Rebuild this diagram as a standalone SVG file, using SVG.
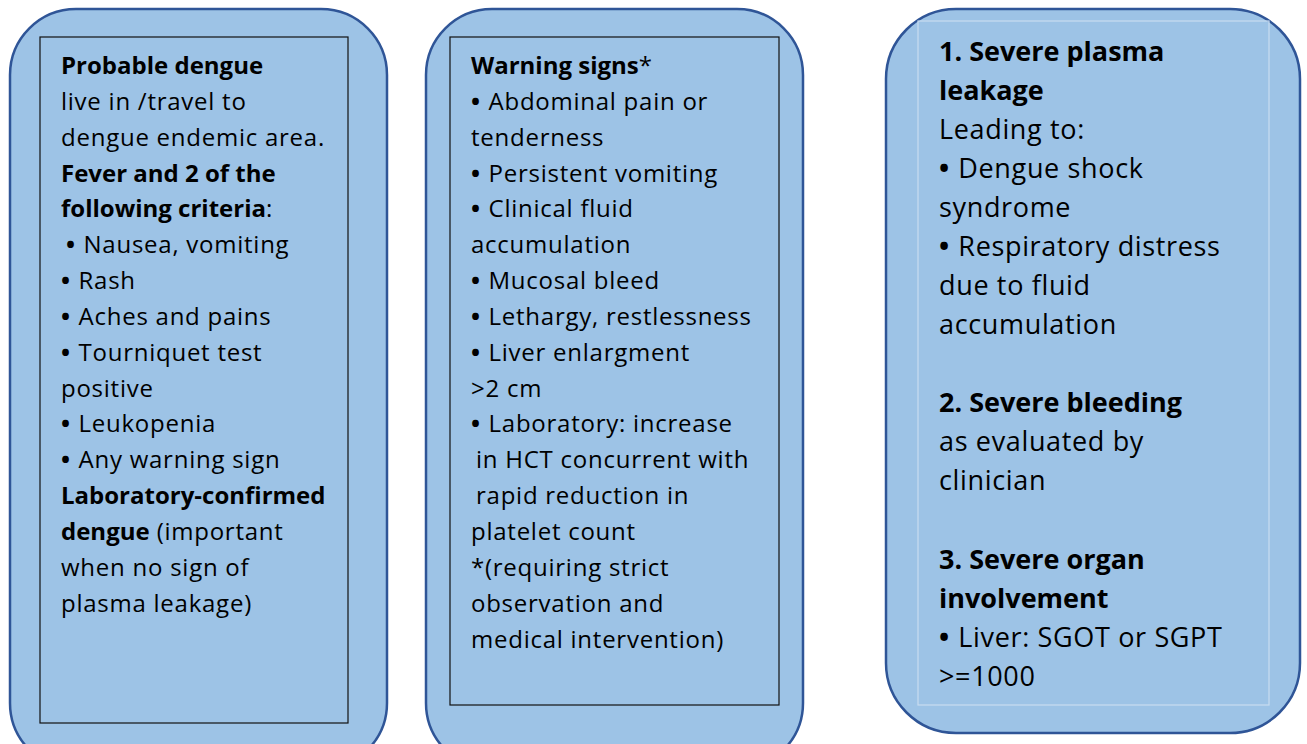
<svg xmlns="http://www.w3.org/2000/svg" width="1307" height="744" viewBox="0 0 1307 744">
  <style>
    .card { fill: #9DC3E6; stroke: #2F5597; stroke-width: 2.5; }
    .frame { fill: none; stroke: #111; stroke-width: 1.2; }
    .frame-light { fill: none; stroke: #C9DDF0; stroke-width: 1.2; }
    text { font-family: "Open Sans", Lato, "Liberation Sans", sans-serif; fill: #000; }
    .t1 { font-size: 24px; letter-spacing: 0.75px; }
    .t3 { font-size: 27px; letter-spacing: 0.65px; }
    .b { font-weight: bold; letter-spacing: 0; }
    .bl { font-weight: bold; letter-spacing: 1.5px; }
  </style>
  <rect width="1307" height="744" fill="#FFFFFF"/>

  <g id="probable-dengue">
    <rect class="card" x="10" y="9" width="377" height="760" rx="66" ry="66"/>
    <rect class="frame" x="40" y="37" width="308" height="686"/>
    <text class="t1">
      <tspan x="61" y="74" class="b">Probable dengue</tspan>
      <tspan x="61" y="110">live in /travel to</tspan>
      <tspan x="61" y="146">dengue endemic area.</tspan>
      <tspan x="61" y="182" class="b">Fever and 2 of the</tspan>
      <tspan x="61" y="217"><tspan class="b">following criteria</tspan>:</tspan>
      <tspan x="66" y="253"><tspan class="bl">•</tspan> Nausea, vomiting</tspan>
      <tspan x="61" y="289"><tspan class="bl">•</tspan> Rash</tspan>
      <tspan x="61" y="325"><tspan class="bl">•</tspan> Aches and pains</tspan>
      <tspan x="61" y="361"><tspan class="bl">•</tspan> Tourniquet test</tspan>
      <tspan x="61" y="397">positive</tspan>
      <tspan x="61" y="432"><tspan class="bl">•</tspan> Leukopenia</tspan>
      <tspan x="61" y="468"><tspan class="bl">•</tspan> Any warning sign</tspan>
      <tspan x="61" y="504" class="b">Laboratory-confirmed</tspan>
      <tspan x="61" y="540"><tspan class="b">dengue</tspan> (important</tspan>
      <tspan x="61" y="576">when no sign of</tspan>
      <tspan x="61" y="612">plasma leakage)</tspan>
    </text>
  </g>

  <g id="warning-signs">
    <rect class="card" x="426" y="9" width="377" height="760" rx="66" ry="66"/>
    <rect class="frame" x="450" y="37" width="329" height="668"/>
    <text class="t1">
      <tspan x="471" y="74"><tspan class="b">Warning signs</tspan>*</tspan>
      <tspan x="471" y="110"><tspan class="bl">•</tspan> Abdominal pain or</tspan>
      <tspan x="471" y="146">tenderness</tspan>
      <tspan x="471" y="182"><tspan class="bl">•</tspan> Persistent vomiting</tspan>
      <tspan x="471" y="217"><tspan class="bl">•</tspan> Clinical fluid</tspan>
      <tspan x="471" y="253">accumulation</tspan>
      <tspan x="471" y="289"><tspan class="bl">•</tspan> Mucosal bleed</tspan>
      <tspan x="471" y="325"><tspan class="bl">•</tspan> Lethargy, restlessness</tspan>
      <tspan x="471" y="361"><tspan class="bl">•</tspan> Liver enlargment</tspan>
      <tspan x="471" y="397">&gt;2 cm</tspan>
      <tspan x="471" y="432"><tspan class="bl">•</tspan> Laboratory: increase</tspan>
      <tspan x="476" y="468">in HCT concurrent with</tspan>
      <tspan x="476" y="504">rapid reduction in</tspan>
      <tspan x="471" y="540">platelet count</tspan>
      <tspan x="471" y="576">*(requiring strict</tspan>
      <tspan x="471" y="612">observation and</tspan>
      <tspan x="471" y="648">medical intervention)</tspan>
    </text>
  </g>

  <g id="severe-dengue">
    <rect class="card" x="886" y="9" width="414" height="724" rx="70" ry="70"/>
    <rect class="frame-light" x="918" y="21" width="351" height="684"/>
    <text class="t3">
      <tspan x="939" y="61" class="b">1. Severe plasma</tspan>
      <tspan x="939" y="100" class="b">leakage</tspan>
      <tspan x="939" y="139">Leading to:</tspan>
      <tspan x="939" y="178"><tspan class="bl">•</tspan> Dengue shock</tspan>
      <tspan x="939" y="217">syndrome</tspan>
      <tspan x="939" y="256"><tspan class="bl">•</tspan> Respiratory distress</tspan>
      <tspan x="939" y="295">due to fluid</tspan>
      <tspan x="939" y="334">accumulation</tspan>
      <tspan x="939" y="412" class="b">2. Severe bleeding</tspan>
      <tspan x="939" y="451">as evaluated by</tspan>
      <tspan x="939" y="490">clinician</tspan>
      <tspan x="939" y="569" class="b">3. Severe organ</tspan>
      <tspan x="939" y="608" class="b">involvement</tspan>
      <tspan x="939" y="647"><tspan class="bl">•</tspan> Liver: SGOT or SGPT</tspan>
      <tspan x="939" y="686">&gt;=1000</tspan>
    </text>
  </g>
</svg>
